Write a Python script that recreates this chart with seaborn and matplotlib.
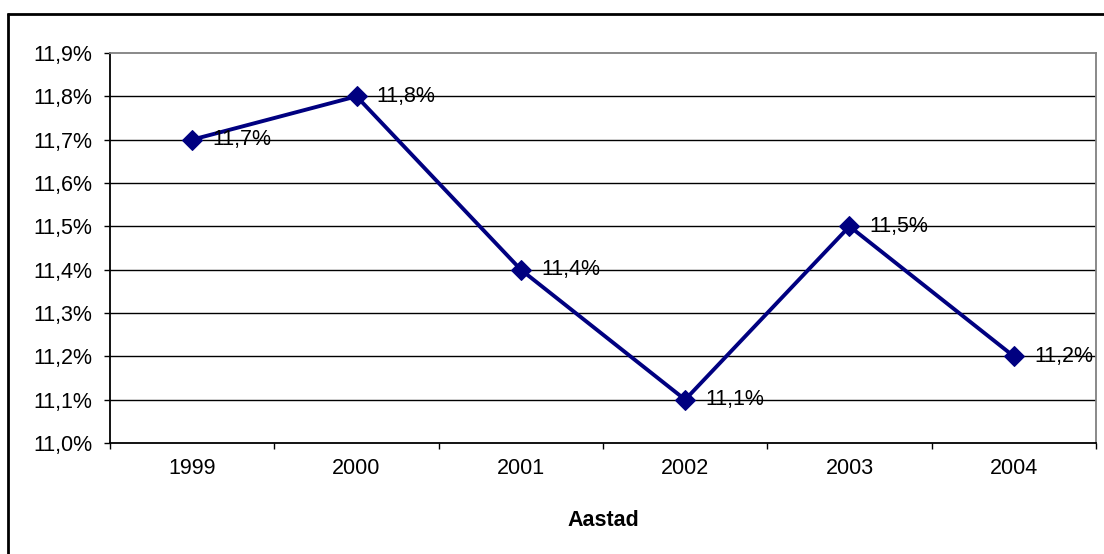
import matplotlib
matplotlib.use("Agg")
import matplotlib.pyplot as plt
from matplotlib.ticker import FixedLocator, FuncFormatter
from matplotlib.lines import Line2D
import seaborn as sns
import pandas as pd

years = ["1999", "2000", "2001", "2002", "2003", "2004"]
rates = [11.7, 11.8, 11.4, 11.1, 11.5, 11.2]
y_ticks = [11.0, 11.1, 11.2, 11.3, 11.4, 11.5, 11.6, 11.7, 11.8, 11.9]

sns.set_theme(style="white")
plt.rcParams["font.family"] = ["Liberation Sans", "DejaVu Sans"]

df = pd.DataFrame({"pos": range(len(years)), "rate": rates})

fig = plt.figure(figsize=(11.04, 5.54), dpi=100)
W, H = 1104, 554
ax = fig.add_axes([110 / W, 1 - 443 / H, (1096 - 110) / W, (443 - 53) / H])

navy = "#000080"
FS = 15.5
sns.lineplot(data=df, x="pos", y="rate", ax=ax, color=navy, linewidth=2.8,
             marker="D", markersize=10.5, markeredgecolor=navy, markerfacecolor=navy,
             zorder=5)

def pct(v, _):
    return f"{v:.1f}%".replace(".", ",")

for i, v in enumerate(rates):
    ax.annotate(pct(v, None), (i, v), xytext=(14.5, 0), textcoords="offset points",
                va="center", ha="left", fontsize=FS, color="#000000", zorder=6)

ax.set_xlim(-0.5, len(years) - 0.5)
ax.set_ylim(y_ticks[0], y_ticks[-1])
ax.yaxis.set_major_locator(FixedLocator(y_ticks))
ax.yaxis.set_major_formatter(FuncFormatter(pct))

ax.xaxis.set_major_locator(FixedLocator([i - 0.5 for i in range(len(years) + 1)]))
ax.xaxis.set_major_formatter(FuncFormatter(lambda v, _: ""))
ax.set_xticks(list(range(len(years))), years, minor=True)

ax.tick_params(axis="y", which="major", direction="out", length=4.5, width=1,
               color="black", labelsize=FS, pad=8, left=True)
ax.tick_params(axis="x", which="major", direction="out", length=4.5, width=1,
               color="black", bottom=True)
ax.tick_params(axis="x", which="minor", length=0, labelsize=FS, pad=11)

for t in ax.get_yticklabels() + ax.get_xticklabels(minor=True):
    t.set_color("black")

for yv in y_ticks[1:-1]:
    ax.axhline(yv, color="black", linewidth=1, zorder=1)

ax.spines["left"].set_color("black")
ax.spines["bottom"].set_color("black")
ax.spines["top"].set_color("#808080")
ax.spines["right"].set_color("#808080")
for s in ax.spines.values():
    s.set_linewidth(1.3)
    s.set_visible(True)

ax.set_xlabel("Aastad", fontsize=FS, fontweight="bold", color="black", labelpad=22)
ax.set_ylabel("")

# frame around the chart
fig.add_artist(Line2D([7 / W, 1.0], [1 - 13.5 / H, 1 - 13.5 / H],
                      transform=fig.transFigure, color="black", linewidth=2,
                      solid_capstyle="butt"))
fig.add_artist(Line2D([7.5 / W, 7.5 / W], [0.0, 1 - 13 / H],
                      transform=fig.transFigure, color="black", linewidth=2,
                      solid_capstyle="butt"))

fig.savefig("out.png", dpi=100)
